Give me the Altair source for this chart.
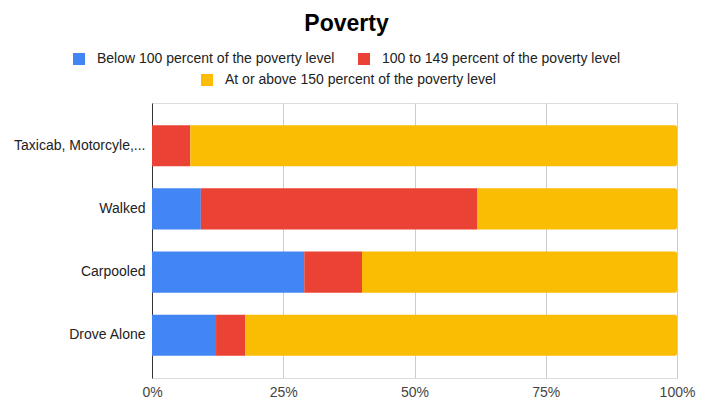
import altair as alt
import pandas as pd

categories = ["Taxicab, Motorcyle,...", "Walked", "Carpooled", "Drove Alone"]
series = [
    "Below 100 percent of the poverty level",
    "100 to 149 percent of the poverty level",
    "At or above 150 percent of the poverty level",
]
below_100 = [0.0, 9.3, 29.0, 12.2]
from_100_to_149 = [7.3, 52.7, 11.0, 5.6]
above_150 = [92.7, 38.0, 60.0, 82.2]
colors = ["#4285F4", "#EA4335", "#FBBC04"]

rows = []
for i, c in enumerate(categories):
    for j, vals in enumerate([below_100, from_100_to_149, above_150]):
        rows.append({"category": c, "series": series[j], "order": j, "value": vals[i]})
df = pd.DataFrame(rows)

FONT = "Liberation Sans"

base = alt.Chart(df).transform_stack(
    stack="value",
    groupby=["category"],
    as_=["x0", "x1"],
    offset="normalize",
    sort=[alt.SortField("order", order="ascending")],
)

x_enc = alt.X(
    "x0:Q",
    title=None,
    scale=alt.Scale(domain=[0, 1], nice=False),
    axis=alt.Axis(
        format="%",
        values=[0, 0.25, 0.5, 0.75, 1],
        grid=True,
        gridColor="#cccccc",
        domain=False,
        ticks=False,
        labelFlush=False,
        labelPadding=7,
        labelFontSize=14,
        labelColor="#444444",
        labelFont=FONT,
    ),
)
y_enc = alt.Y(
    "category:N",
    title=None,
    sort=categories,
    scale=alt.Scale(paddingInner=0.35, paddingOuter=0.35),
    axis=alt.Axis(
        domain=True,
        domainColor="#333333",
        ticks=False,
        labelPadding=7,
        labelFontSize=14,
        labelColor="#222222",
        labelFont=FONT,
        labelLimit=300,
    ),
)

legend_common = dict(
    orient="none",
    direction="horizontal",
    title=None,
    symbolType="square",
    symbolSize=144,
    symbolStrokeWidth=0,
    labelFontSize=14,
    labelFont=FONT,
    labelColor="#222222",
    labelOffset=11,
    labelLimit=400,
    columnPadding=22,
)

layer_a = base.transform_filter(alt.datum.order < 2).mark_bar().encode(
    x=x_enc,
    x2="x1:Q",
    y=y_enc,
    color=alt.Color(
        "series:N",
        scale=alt.Scale(domain=series[:2], range=colors[:2]),
        sort=series[:2],
        legend=alt.Legend(legendX=-80, legendY=-51, **legend_common),
    ),
)

layer_b = base.transform_filter(alt.datum.order == 2).mark_bar(
    cornerRadiusTopRight=2, cornerRadiusBottomRight=2
).encode(
    x=x_enc,
    x2="x1:Q",
    y=y_enc,
    color=alt.Color(
        "series:N",
        scale=alt.Scale(domain=series[2:], range=colors[2:]),
        legend=alt.Legend(legendX=48, legendY=-30, **legend_common),
    ),
)

chart = (
    alt.layer(layer_a, layer_b)
    .resolve_scale(color="independent")
    .resolve_legend(color="independent")
    .properties(
        width=525,
        height=275,
        autosize=alt.AutoSizeParams(type="none"),
        padding={"left": 152, "top": 103, "right": 29, "bottom": 22},
        title=alt.TitleParams(
            "Poverty",
            anchor="middle",
            frame="group",
            dx=-68,
            offset=16,
            fontSize=23,
            fontWeight="bold",
            font=FONT,
            color="#000000",
        ),
    )
    .configure_view(stroke=None)
    .configure(background="white")
)

chart.save("out.html", embed_options={"renderer": "svg", "actions": False})
